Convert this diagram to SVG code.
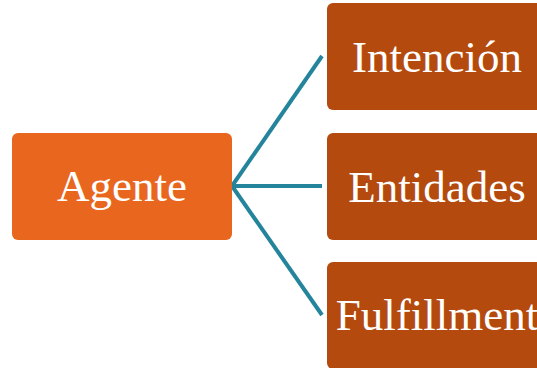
<svg xmlns="http://www.w3.org/2000/svg" width="537" height="368" viewBox="0 0 537 368">
<style>
.root{fill:#E9661F}
.child{fill:#B54A0F}
.lbl{font-family:"Liberation Serif","Times New Roman",serif;font-size:45px;fill:#FFFFFF;text-anchor:middle}
.conn{stroke:#23849B;stroke-width:4;fill:none}
</style>
<rect width="537" height="368" fill="#FFFFFF"/>
<g id="connectors">
<line class="conn" x1="232" y1="186" x2="322" y2="56"/>
<line class="conn" x1="232" y1="186" x2="322" y2="186"/>
<line class="conn" x1="232" y1="186" x2="322" y2="315"/>
</g>
<g id="agente">
<rect class="root" x="12" y="133" width="220" height="107" rx="6"/>
<text class="lbl" x="122" y="201">Agente</text>
</g>
<g id="intencion">
<rect class="child" x="327" y="3" width="220" height="107" rx="6"/>
<text class="lbl" x="437" y="72">Intención</text>
</g>
<g id="entidades">
<rect class="child" x="327" y="133" width="220" height="107" rx="6"/>
<text class="lbl" x="437" y="202">Entidades</text>
</g>
<g id="fulfillment">
<rect class="child" x="327" y="262" width="220" height="107" rx="6"/>
<text class="lbl" x="437" y="330">Fulfillment</text>
</g>
</svg>
